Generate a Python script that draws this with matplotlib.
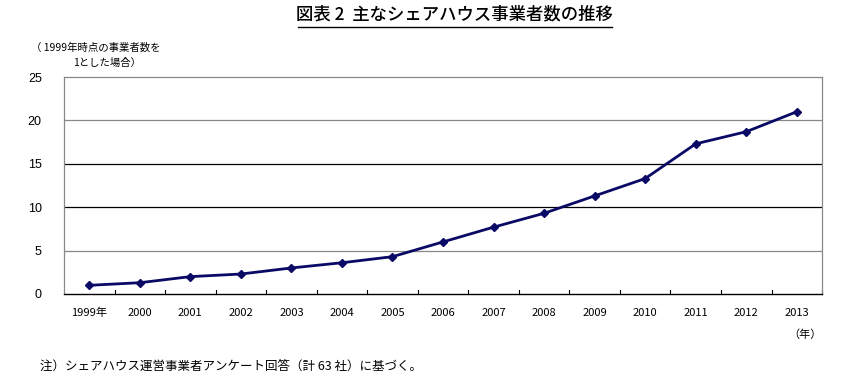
import matplotlib.pyplot as plt
from matplotlib.lines import Line2D

plt.rcParams['font.family'] = ['Noto Sans CJK JP', 'DejaVu Sans']

# data
years = ['1999年', '2000', '2001', '2002', '2003', '2004', '2005', '2006',
         '2007', '2008', '2009', '2010', '2011', '2012', '2013']
values = [1.0, 1.3, 2.0, 2.3, 3.0, 3.6, 4.3, 6.0, 7.7, 9.3, 11.3, 13.3, 17.3, 18.7, 21.0]
yticks = [0, 5, 10, 15, 20, 25]

fig = plt.figure(figsize=(8.44, 3.79), dpi=100)
ax = fig.add_axes([0.0758, 0.2243, 0.8982, 0.5725])

x = list(range(len(years)))
ax.plot(x, values, color='#0a0a66', lw=2, marker='D', ms=4, zorder=3)

ax.set_xlim(-0.5, len(years) - 0.5)
ax.set_ylim(0, 25)
ax.set_yticks(yticks)
ax.set_xticks(x)
ax.set_xticklabels(years)
ax.tick_params(axis='x', length=0, pad=10, labelsize=8)
ax.tick_params(axis='y', length=0, pad=16, labelsize=9)
for lab in ax.get_yticklabels():
    lab.set_fontfamily(['Liberation Sans', 'DejaVu Sans'])

# category boundary ticks pointing inward
for b in range(1, len(years) + 1):
    ax.plot([b - 0.5, b - 0.5], [0, 0.45], color='black', lw=0.8, clip_on=False)

# gridlines: 5 and 20 gray, 10 and 15 black
for yv, c in [(5, '#888888'), (10, 'black'), (15, 'black'), (20, '#888888')]:
    ax.axhline(yv, color=c, lw=0.9, zorder=1)

for s in ['left', 'right', 'top']:
    ax.spines[s].set_color('#888888')
    ax.spines[s].set_linewidth(0.9)
ax.spines['bottom'].set_color('black')
ax.spines['bottom'].set_linewidth(1.0)

# title with underline
fig.text(0.539, 0.962, '図表 2  主なシェアハウス事業者数の推移', ha='center', va='center',
         fontsize=12.5, fontweight='medium')
fig.add_artist(Line2D([0.353, 0.725], [0.929, 0.929], color='black', lw=1.0))

fig.text(0.037, 0.873, '（ 1999年時点の事業者数を', ha='left', va='center', fontsize=7.5)
fig.text(0.086, 0.834, '1とした場合）', ha='left', va='center', fontsize=7.5)

fig.text(0.954, 0.117, '（年）', ha='center', va='center', fontsize=8)
fig.text(0.047, 0.034, '注）シェアハウス運営事業者アンケート回答（計 63 社）に基づく。',
         ha='left', va='center', fontsize=9)

fig.savefig('out.png', dpi=100)
